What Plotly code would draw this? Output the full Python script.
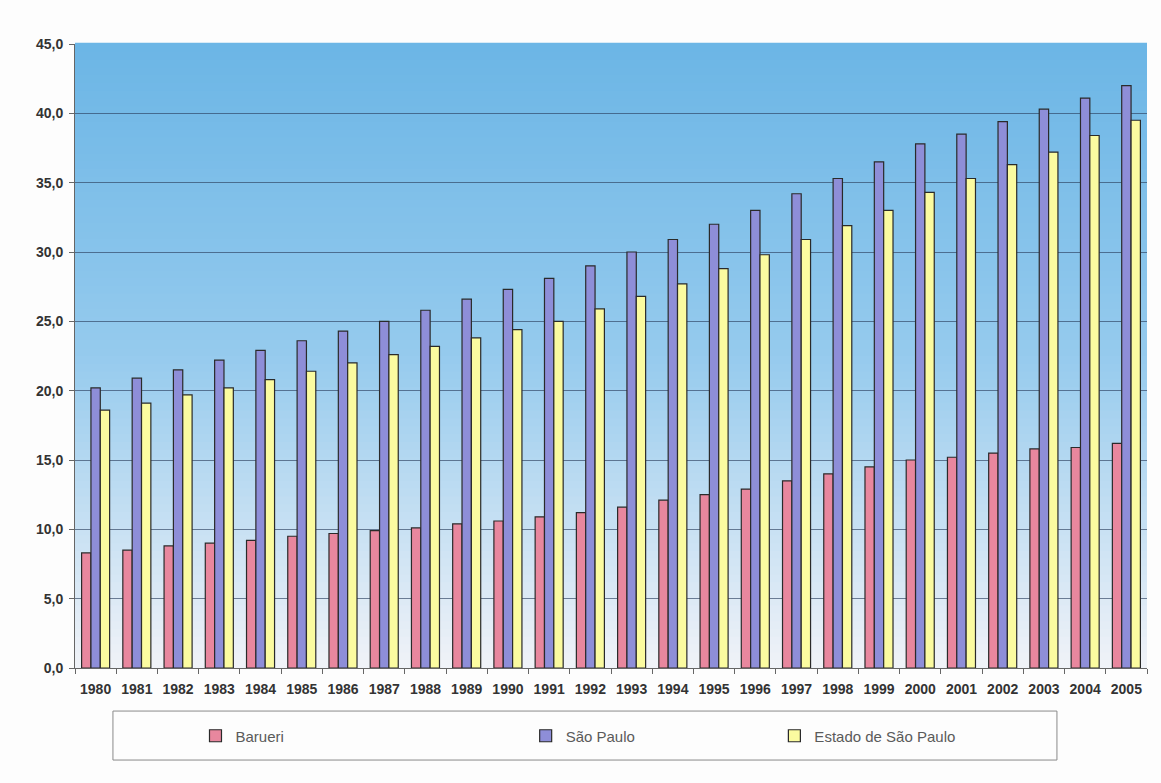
import plotly.graph_objects as go

years = [str(y) for y in range(1980, 2006)]
barueri = [8.3, 8.5, 8.8, 9.0, 9.2, 9.5, 9.7, 9.9, 10.1, 10.4, 10.6, 10.9, 11.2,
           11.6, 12.1, 12.5, 12.9, 13.5, 14.0, 14.5, 15.0, 15.2, 15.5, 15.8, 15.9, 16.2]
sao_paulo = [20.2, 20.9, 21.5, 22.2, 22.9, 23.6, 24.3, 25.0, 25.8, 26.6, 27.3, 28.1, 29.0,
             30.0, 30.9, 32.0, 33.0, 34.2, 35.3, 36.5, 37.8, 38.5, 39.4, 40.3, 41.1, 42.0]
estado = [18.6, 19.1, 19.7, 20.2, 20.8, 21.4, 22.0, 22.6, 23.2, 23.8, 24.4, 25.0, 25.9,
          26.8, 27.7, 28.8, 29.8, 30.9, 31.9, 33.0, 34.3, 35.3, 36.3, 37.2, 38.4, 39.5]
y_ticks = [0, 5, 10, 15, 20, 25, 30, 35, 40, 45]

fig = go.Figure()
fig.add_trace(go.Bar(x=years, y=barueri, name="Barueri", legend="legend",
                     marker=dict(color="#e8879e", line=dict(color="#2a2a2a", width=1.2))))
fig.add_trace(go.Bar(x=years, y=sao_paulo, name="São Paulo", legend="legend2",
                     marker=dict(color="#8e8ed8", line=dict(color="#2a2a2a", width=1.2))))
fig.add_trace(go.Bar(x=years, y=estado, name="Estado de São Paulo", legend="legend3",
                     marker=dict(color="#fbfba0", line=dict(color="#2a2a2a", width=1.2))))

# vertical gradient background of the plot area
top = (108, 182, 230)
mid = (150, 203, 238)
bot = (240, 243, 248)
n = 80
shapes = []
for i in range(n):
    t = i / (n - 1)  # 0 bottom -> 1 top
    if t < 0.5:
        u = t / 0.5
        c = tuple(int(bot[k] + (mid[k] - bot[k]) * u) for k in range(3))
    else:
        u = (t - 0.5) / 0.5
        c = tuple(int(mid[k] + (top[k] - mid[k]) * u) for k in range(3))
    shapes.append(dict(type="rect", xref="x domain", yref="y domain",
                       x0=0, x1=1, y0=i / n, y1=(i + 1) / n + 0.002,
                       fillcolor="rgb(%d,%d,%d)" % c, line=dict(width=0), layer="below"))
# legend box
shapes.append(dict(type="rect", xref="paper", yref="paper",
                   x0=0.0354, x1=0.916, y0=-0.069, y1=-0.1475,
                   line=dict(color="#8a8a8a", width=1), fillcolor="rgba(0,0,0,0)"))

legfont = dict(family="Liberation Sans Narrow, Arial Narrow, Liberation Sans, Arial",
               size=15, color="#5a5a5a")
leg_common = dict(orientation="h", yanchor="middle", y=-0.109, xanchor="left",
                  bgcolor="rgba(0,0,0,0)", borderwidth=0, font=legfont,
                  itemwidth=30, tracegroupgap=0)

fig.update_layout(
    width=1161, height=783,
    margin=dict(l=75, r=14, t=44, b=115),
    paper_bgcolor="#fdfdfd",
    plot_bgcolor="rgba(0,0,0,0)",
    separators=",.",
    barmode="group", bargap=0.32, bargroupgap=0.0,
    shapes=shapes,
    showlegend=True,
    legend=dict(x=0.1124, **leg_common),
    legend2=dict(x=0.4204, **leg_common),
    legend3=dict(x=0.6524, **leg_common),
    font=dict(family="Liberation Sans, Arial", color="#333333"),
)
fig.update_xaxes(type="category", tickson="boundaries", ticks="outside", ticklen=5,
                 tickcolor="#666666", showline=True, linecolor="#666666", linewidth=1,
                 showgrid=False, ticklabelstandoff=8,
                 tickfont=dict(family="Liberation Sans, Arial", size=14, color="#333333",
                               weight="bold"))
fig.update_yaxes(range=[0, 45], tickvals=y_ticks, tickformat=".1f", ticks="outside",
                 ticklen=5, tickcolor="#666666", showline=True, linecolor="#666666",
                 linewidth=1, showgrid=True, gridcolor="rgba(45,65,95,0.65)", gridwidth=1,
                 zeroline=False, ticklabelstandoff=3,
                 tickfont=dict(family="Liberation Sans, Arial", size=14, color="#333333",
                               weight="bold"))

fig.write_html("out.html")
